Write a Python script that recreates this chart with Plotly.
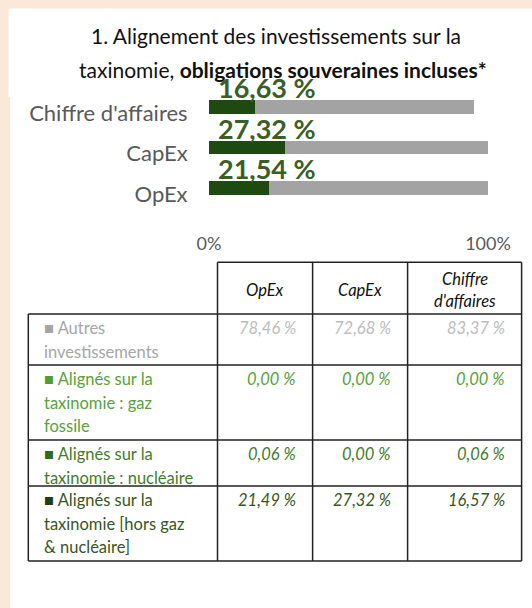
import plotly.graph_objects as go

# ---------------- data ----------------
bar_categories = ["OpEx", "CapEx", "Chiffre d'affaires"]
aligned_pct = [21.54, 27.32, 16.63]
other_pct = [78.46, 72.68, 78.40]
x_tick_vals = [0, 100]
x_tick_text = ["0%", "100%"]

title_line1 = "1. Alignement des investissements sur la"
title_line2_plain = "taxinomie, "
title_line2_bold = "obligations souveraines incluses*"

table_cols = ["OpEx", "CapEx", "Chiffre\nd'affaires"]
table_rows = [
    "Autres\ninvestissements",
    "Alignés sur la\ntaxinomie : gaz\nfossile",
    "Alignés sur la\ntaxinomie : nucléaire",
    "Alignés sur la\ntaxinomie [hors gaz\n& nucléaire]",
]
opex_vals = [78.46, 0.00, 0.06, 21.49]
capex_vals = [72.68, 0.00, 0.00, 27.32]
ca_vals = [83.37, 0.00, 0.06, 16.57]

# ---------------- styles ----------------
W, H = 532, 608
FONT = "Lato, 'Open Sans', sans-serif"
BEIGE = "#FBE8D8"
DARK_GREEN_BAR = "#1e4a12"
GREY_BAR = "#a3a3a3"
LABEL_GREEN = "#3a5f24"
AXIS_TEXT = "#595959"
row_text_colors = ["#a6a6a6", "#56a23c", "#3f7d2c", "#375623"]
row_square_colors = ["#a6a6a6", "#4e9e33", "#2f6b20", "#1f3f14"]
row_value_colors = ["#bdbdbd", "#56a23c", "#3f7d2c", "#375623"]


def X(p):
    return p / W


def Y(p):
    return 1 - p / H


def fmt(v):
    return f"{v:.2f}".replace(".", ",") + " %"


fig = go.Figure()
fig.add_trace(go.Bar(y=bar_categories, x=aligned_pct, orientation="h",
                     marker=dict(color=DARK_GREEN_BAR, line=dict(width=0)),
                     width=0.34, offset=-0.02, name="Alignés", showlegend=False))
fig.add_trace(go.Bar(y=bar_categories, x=other_pct, orientation="h",
                     marker=dict(color=GREY_BAR, line=dict(width=0)),
                     width=0.34, offset=-0.02, name="Autres", showlegend=False))

shapes = []
# white panel
shapes.append(dict(type="rect", xref="paper", yref="paper", x0=X(8.5), x1=1, y0=Y(97), y1=Y(8.5),
                   fillcolor="white", line=dict(width=0), layer="below"))
shapes.append(dict(type="rect", xref="paper", yref="paper", x0=X(10), x1=1, y0=0, y1=Y(97),
                   fillcolor="white", line=dict(width=0), layer="below"))

annotations = []
# title
annotations.append(dict(text=title_line1, x=X(275.7), y=Y(35.6), xref="paper", yref="paper",
                        xanchor="center", yanchor="middle", showarrow=False,
                        font=dict(family=FONT, size=21, color="#111111")))
annotations.append(dict(text=title_line2_plain + "<b>" + title_line2_bold + "</b>",
                        x=X(282.7), y=Y(69.6), xref="paper", yref="paper",
                        xanchor="center", yanchor="middle", showarrow=False,
                        font=dict(family=FONT, size=21, color="#111111")))

# bar data labels
for cat, v in zip(bar_categories, aligned_pct):
    annotations.append(dict(text="<b>" + fmt(v) + "</b>", x=0, y=cat, xref="x", yref="y",
                            xanchor="left", yanchor="bottom", showarrow=False,
                            xshift=8, yshift=8, borderpad=0,
                            font=dict(family=FONT, size=27, color=LABEL_GREEN)))

# ---------------- table ----------------
col_edges = [28.3, 217.5, 312.6, 407.6, 521.6]
row_edges = [262.3, 314, 365, 440, 486, 561]
LINE = dict(color="#222222", width=1.5)


def hline(y, xa, xb):
    shapes.append(dict(type="line", xref="paper", yref="paper", x0=X(xa), x1=X(xb),
                       y0=Y(y), y1=Y(y), line=LINE))


def vline(x, ya, yb):
    shapes.append(dict(type="line", xref="paper", yref="paper", x0=X(x), x1=X(x),
                       y0=Y(ya), y1=Y(yb), line=LINE))


# header borders
hline(row_edges[0], col_edges[1], col_edges[-1])
for xe in col_edges[1:]:
    vline(xe, row_edges[0], row_edges[1])
# body borders
for ye in row_edges[1:]:
    hline(ye, col_edges[0], col_edges[-1])
for xe in col_edges:
    vline(xe, row_edges[1], row_edges[-1])

# header text
for j, name in enumerate(table_cols):
    cx = (col_edges[j + 1] + col_edges[j + 2]) / 2
    lines = name.split("\n")
    mid = (row_edges[0] + row_edges[1]) / 2 + 1.5
    step = 22
    start = mid - step * (len(lines) - 1) / 2
    for k, ln in enumerate(lines):
        annotations.append(dict(text="<i>" + ln + "</i>", x=X(cx), y=Y(start + k * step),
                                xref="paper", yref="paper", xanchor="center", yanchor="middle",
                                showarrow=False, borderpad=0,
                                font=dict(family=FONT, size=16.5, color="#111111")))

# body text
LINE_STEP = 23.5
value_cols = [opex_vals, capex_vals, ca_vals]
for i, label in enumerate(table_rows):
    top = row_edges[i + 1]
    first = top + 14
    for k, ln in enumerate(label.split("\n")):
        txt = ln
        if k == 0:
            txt = f"<span style='color:{row_square_colors[i]}'>■</span> " + ln
        annotations.append(dict(text=txt, x=X(43.3), y=Y(first + k * LINE_STEP),
                                xref="paper", yref="paper", xanchor="left", yanchor="middle",
                                showarrow=False, borderpad=0,
                                font=dict(family=FONT, size=16.5, color=row_text_colors[i])))
    for j, vals in enumerate(value_cols):
        annotations.append(dict(text="<i>" + fmt(vals[i]) + "</i>", x=X(col_edges[j + 2] - 16),
                                y=Y(first), xref="paper", yref="paper",
                                xanchor="right", yanchor="middle", showarrow=False, borderpad=0,
                                font=dict(family=FONT, size=16.5, color=row_value_colors[i])))

fig.update_layout(
    width=W, height=H, autosize=False,
    margin=dict(l=0, r=0, t=0, b=0, pad=0, autoexpand=False),
    paper_bgcolor=BEIGE,
    plot_bgcolor="rgba(0,0,0,0)",
    barmode="stack",
    bargap=0,
    showlegend=False,
    shapes=shapes,
    annotations=annotations,
    xaxis=dict(domain=[X(209), X(488)], range=[0, 100], tickvals=x_tick_vals, ticktext=x_tick_text,
               showgrid=True, gridcolor="#d9d9d9", gridwidth=1.2, zeroline=False, automargin=False,
               ticks="outside", ticklen=19, tickcolor="rgba(0,0,0,0)",
               tickfont=dict(family=FONT, size=18, color=AXIS_TEXT), fixedrange=True),
    yaxis=dict(domain=[Y(208.7), Y(97)], range=[-0.36, 2.4], type="category",
               categoryorder="array", categoryarray=bar_categories, automargin=False,
               showgrid=False, zeroline=False, showline=False,
               ticks="outside", ticklen=16, tickcolor="rgba(0,0,0,0)",
               tickfont=dict(family=FONT, size=22, color=AXIS_TEXT), fixedrange=True),
)

fig.write_html(
    "out.html",
    config={"responsive": False, "displayModeBar": False},
    post_script="document.body.style.margin='0';document.body.style.overflow='hidden';",
)
